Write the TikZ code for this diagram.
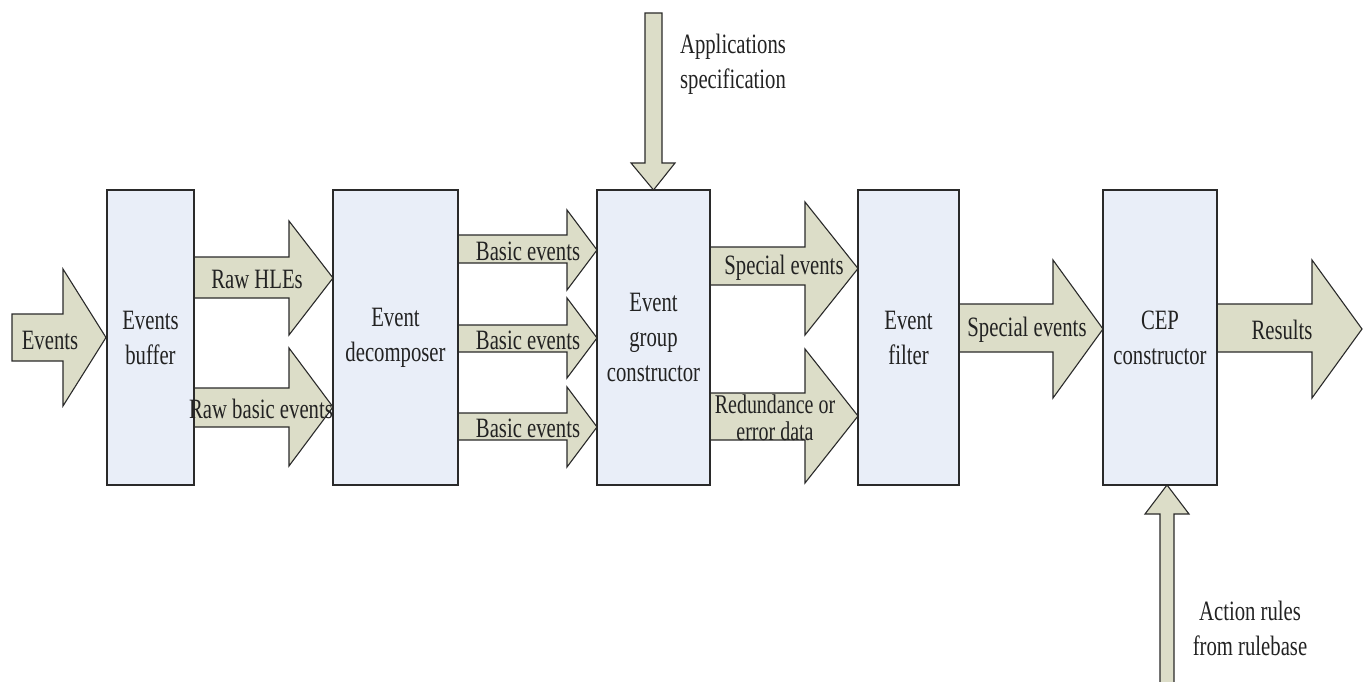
\documentclass[tikz,border=0pt]{standalone}
\usepackage{fontspec}
\setmainfont{Liberation Serif}[FakeStretch=0.74]
\definecolor{boxfill}{HTML}{E9EEF8}
\definecolor{arrfill}{HTML}{DCDDC8}
\definecolor{edge}{HTML}{2A2A2A}
\definecolor{txt}{HTML}{222222}
\tikzset{
  box/.style={draw=edge, line width=1.3pt, fill=boxfill, inner sep=0pt, align=center,
    font=\fontsize{28}{35}\selectfont, text=txt},
  arr/.style={draw=edge, line width=1.1pt, fill=arrfill, line join=miter},
  lbl/.style={inner sep=0pt, align=center, font=\fontsize{28}{35}\selectfont, text=txt},
  lbltight/.style={lbl, font=\fontsize{27}{27}\selectfont},
}
% horizontal block arrow: x-start, head-base x, tip x, shaft y1, shaft y2, head y1, head y2
\newcommand\harrow[7]{%
  \draw[arr] (#1,#4) -- (#2,#4) -- (#2,#6) -- (#3,{(#6+#7)/2}) -- (#2,#7) -- (#2,#5) -- (#1,#5) -- cycle;}
\begin{document}
\begin{tikzpicture}[x=1pt, y=-1pt]
\useasboundingbox (0,0) rectangle (1370,682);

% block arrows
\harrow{12}{63}{106}{314}{361}{269}{406}
\harrow{194}{289}{333}{257}{298}{221}{335}
\harrow{194}{289}{333}{388}{427}{348}{466}
\harrow{458}{567}{597}{235}{263}{210}{290}
\harrow{458}{567}{597}{325}{352}{298}{378}
\harrow{458}{567}{597}{413}{440}{387}{467}
\harrow{710}{805}{858}{247}{285}{202}{335}
\harrow{710}{805}{858}{393}{440}{349}{483}
\harrow{959}{1053}{1103}{304}{352}{260}{398}
\harrow{1217}{1312}{1362}{304}{352}{260}{398}

% vertical arrow: applications specification (down)
\draw[arr] (645,13) -- (662,13) -- (662,163) -- (675,163) -- (653.5,190) -- (631,163) -- (645,163) -- cycle;
% vertical arrow: action rules (up), open at bottom
\fill[arrfill] (1160,684) -- (1160,514) -- (1145,514) -- (1167,485) -- (1189,514) -- (1174,514) -- (1174,684) -- cycle;
\draw[arr, fill=none] (1160,684) -- (1160,514) -- (1145,514) -- (1167,485) -- (1189,514) -- (1174,514) -- (1174,684);

% boxes
\node[box, minimum width=87, minimum height=295] (buf) at (150.5,337.5) {Events\\buffer};
\node[box, minimum width=125, minimum height=295] (dec) at (395.5,337.5) {Event\\decomposer};
\node[box, minimum width=113, minimum height=295] (egc) at (653.5,337.5) {Event\\group\\constructor};
\node[box, minimum width=101, minimum height=295] (flt) at (908.5,337.5) {Event\\filter};
\node[box, minimum width=114, minimum height=295] (cep) at (1160,337.5) {CEP\\constructor};

% arrow labels
\node[lbl] (lev) at (50,340) {Events};
\node[lbl] (lhle) at (257,279) {Raw HLEs};
\node[lbl] (lrbe) at (261,409) {Raw basic events};
\node[lbl] (lb1) at (528,251) {Basic events};
\node[lbl] (lb2) at (528,340) {Basic events};
\node[lbl] (lb3) at (528,428) {Basic events};
\node[lbl] (lse1) at (784,268) {Special events};
\node[lbltight] (lred) at (775,418) {Redundance or\\error data};
\node[lbl] (lse2) at (1027,330) {Special events};
\node[lbl] (lres) at (1282,330) {Results};
\node[lbl] (lapp) at (733,64) {Applications\\specification};
\node[lbl] (lact) at (1250,628) {Action rules\\from rulebase};
\end{tikzpicture}
\end{document}
